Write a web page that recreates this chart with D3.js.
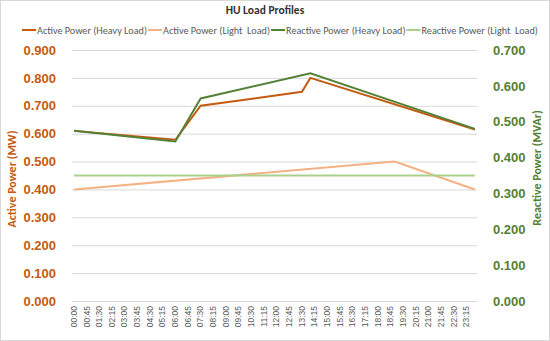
<!DOCTYPE html>
<html>
<head>
<meta charset="utf-8">
<script src="https://cdn.jsdelivr.net/npm/d3@7"></script>
<style>
  body { margin: 0; background: #fff; }
  svg { font-family: Calibri, Carlito, "Open Sans", "Liberation Sans", sans-serif; }
</style>
</head>
<body>
<svg id="chart" width="550" height="341"></svg>
<script>
// 15-minute time slots, 00:00 .. 23:45
var times = d3.range(96).map(function(i) {
  var h = Math.floor(i / 4), m = (i % 4) * 15;
  return (h < 10 ? "0" : "") + h + ":" + (m < 10 ? "0" : "") + m;
});

// breakpoints
var activeHeavyT = ["00:00", "06:00", "07:30", "13:30", "14:00", "23:45"];
var activeHeavy  = [0.610, 0.578, 0.700, 0.750, 0.800, 0.615];
var activeLightT = ["00:00", "19:00", "23:45"];
var activeLight  = [0.400, 0.500, 0.400];
var reactHeavyT  = ["00:00", "06:00", "07:30", "14:00", "23:45"];
var reactHeavy   = [0.475, 0.445, 0.565, 0.635, 0.480];
var reactLightT  = ["00:00", "23:45"];
var reactLight   = [0.350, 0.350];

var leftTicks  = [0, 0.1, 0.2, 0.3, 0.4, 0.5, 0.6, 0.7, 0.8, 0.9];
var rightTicks = [0, 0.1, 0.2, 0.3, 0.4, 0.5, 0.6, 0.7];

var series = [
  { name: "Active Power (Heavy Load)",   t: activeHeavyT, v: activeHeavy, axis: "L", color: "#C55A11" },
  { name: "Active Power (Light  Load)",  t: activeLightT, v: activeLight, axis: "L", color: "#F4B183" },
  { name: "Reactive Power (Heavy Load)", t: reactHeavyT,  v: reactHeavy,  axis: "R", color: "#538135" },
  { name: "Reactive Power (Light  Load)",t: reactLightT,  v: reactLight,  axis: "R", color: "#A9D18E" }
];

var svg = d3.select("#chart");
var W = 550, H = 341;
var plot = { left: 72, right: 477, top: 50, bottom: 301 };

svg.append("rect").attr("x", 0.5).attr("y", 0.5).attr("width", W - 1).attr("height", H - 1)
  .attr("fill", "#fff").attr("stroke", "#d9d9d9");

var x = d3.scaleBand().domain(times).range([plot.left, plot.right]);
var yL = d3.scaleLinear().domain([0, 0.9]).range([plot.bottom, plot.top]);
var yR = d3.scaleLinear().domain([0, 0.7]).range([plot.bottom, plot.top]);

// gridlines
svg.append("g").selectAll("line").data(leftTicks).enter().append("line")
  .attr("x1", plot.left).attr("x2", plot.right)
  .attr("y1", function(d) { return yL(d) + 0.5; }).attr("y2", function(d) { return yL(d) + 0.5; })
  .attr("stroke", "#d9d9d9").attr("stroke-width", 1);

// left axis
var gL = svg.append("g").attr("transform", "translate(" + (plot.left - 13) + ",0)")
  .call(d3.axisLeft(yL).tickValues(leftTicks).tickFormat(d3.format(".3f")).tickSize(0));
gL.select(".domain").remove();
gL.selectAll("text").attr("fill", "#C55A11").attr("font-weight", "bold").attr("font-size", 13)
  .attr("font-family", "inherit");

// right axis
var gR = svg.append("g").attr("transform", "translate(" + (plot.right + 13) + ",0)")
  .call(d3.axisRight(yR).tickValues(rightTicks).tickFormat(d3.format(".3f")).tickSize(0));
gR.select(".domain").remove();
gR.selectAll("text").attr("fill", "#538135").attr("font-weight", "bold").attr("font-size", 13)
  .attr("font-family", "inherit");

// bottom axis (every 3rd slot)
var gX = svg.append("g").attr("transform", "translate(0," + (plot.bottom + 3) + ")")
  .call(d3.axisBottom(x).tickValues(times.filter(function(d, i) { return i % 3 === 0; })).tickSize(0));
gX.select(".domain").remove();
gX.selectAll("text")
  .attr("fill", "#595959").attr("font-size", 8.5).attr("font-family", "inherit")
  .attr("transform", "rotate(-90)").attr("text-anchor", "end")
  .attr("x", -2).attr("y", 0).attr("dy", "0.32em");

// axis titles
svg.append("text").attr("transform", "translate(16,179) rotate(-90)")
  .attr("text-anchor", "middle").attr("fill", "#C55A11").attr("font-weight", "bold").attr("font-size", 12)
  .text("Active Power (MW)");
svg.append("text").attr("transform", "translate(541,168) rotate(-90)")
  .attr("text-anchor", "middle").attr("fill", "#538135").attr("font-weight", "bold").attr("font-size", 12)
  .text("Reactive Power (MVAr)");

// lines
series.forEach(function(s) {
  var yy = s.axis === "L" ? yL : yR;
  var pts = s.t.map(function(t, i) { return [x(t) + x.bandwidth() / 2, yy(s.v[i])]; });
  svg.append("path").datum(pts)
    .attr("d", d3.line())
    .attr("fill", "none").attr("stroke", s.color).attr("stroke-width", 2)
    .attr("stroke-linejoin", "miter");
});

// title
svg.append("text").attr("x", 265).attr("y", 14).attr("text-anchor", "middle")
  .attr("font-weight", "bold").attr("font-size", 11.5).attr("fill", "#333")
  .text("HU Load Profiles");

// legend
var lg = svg.append("g");
var lx = 22, ly = 30;
series.forEach(function(s) {
  lg.append("line").attr("x1", lx).attr("x2", lx + 14).attr("y1", ly).attr("y2", ly)
    .attr("stroke", s.color).attr("stroke-width", 2);
  var t = lg.append("text").attr("x", lx + 15).attr("y", ly).attr("dy", "0.35em")
    .attr("font-size", 10.2).attr("fill", "#595959").attr("xml:space", "preserve").style("white-space", "pre")
    .text(s.name);
  lx += 15 + t.node().getComputedTextLength() + 1;
});
</script>
</body>
</html>
